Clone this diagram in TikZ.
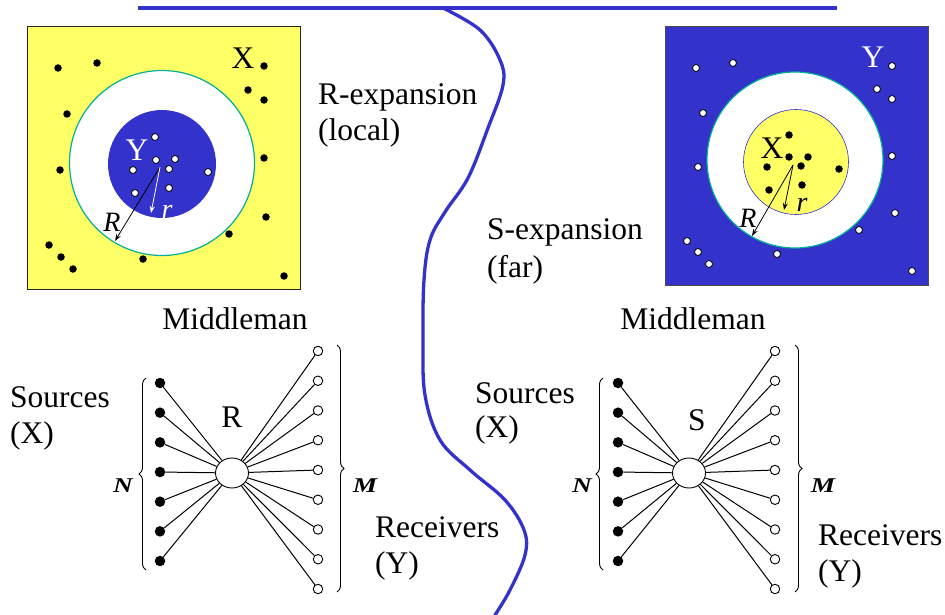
\documentclass[tikz,border=0pt]{standalone}
\usepackage{fontspec}
\setmainfont{Liberation Serif}
\usetikzlibrary{arrows.meta,positioning,shapes.geometric,decorations.pathreplacing}

\definecolor{pblue}{RGB}{51,51,204}
\definecolor{pyellow}{RGB}{255,255,102}
\definecolor{rimgreen}{RGB}{0,175,150}

\tikzset{
  lbl/.style={font=\fontsize{31.5}{36}\selectfont, inner sep=0pt},
  sym/.style={font=\fontsize{28}{30}\selectfont\itshape, inner sep=0pt},
  card/.style={font=\fontsize{21}{23}\selectfont\bfseries\itshape, inner sep=0pt, xscale=1.3},
  bdot/.style={circle, fill=black, inner sep=0pt, minimum size=7.5pt},
  wdot/.style={circle, draw=black, fill=white, line width=0.8pt, inner sep=0pt, minimum size=7pt},
  srcdot/.style={circle, fill=black, inner sep=0pt, minimum size=10.5pt},
  dstdot/.style={circle, draw=black, fill=white, line width=0.9pt, inner sep=0pt, minimum size=9.5pt},
  hub/.style={ellipse, draw=black, fill=white, line width=0.9pt, inner sep=0pt, minimum width=33pt, minimum height=30pt},
  link/.style={line width=1pt},
  grp/.style={decorate, decoration={brace, amplitude=7pt}, line width=0.9pt},
  divider/.style={pblue, line width=3.3pt},
  radius arrow/.style={-{Stealth[length=7pt,width=5pt]}, line width=0.8pt},
}

\begin{document}
\begin{tikzpicture}[x=1pt, y=-1pt]
\useasboundingbox (0,0) rectangle (945,615);

% dividing lines
\draw[divider] (138,8) -- (837,8);
\draw[divider, line cap=round] plot[smooth, tension=0.6] coordinates {(443,8) (480,30) (500,60) (503,85) (488,128) (468,178) (445,212) (430,240) (424,280) (423,340) (425,395) (440,440) (470,470) (505,500) (524,530) (525,555) (510,590) (495,615)};

% R-expansion (local)
\draw[fill=pyellow, draw=black!85, line width=1pt] (27,27) rectangle (300,289);
\draw[fill=white, draw=rimgreen, line width=1.2pt] (162,163) circle (92.5);
\fill[pblue] (162,164) circle (54);
\foreach \p in {(58,68),(97,63),(264,66),(248,90),(264,100),(67,114),(60,170),(264,158),(266,217),(229,234),(49,245),(61,257),(73,269),(143,259),(284,276)}
  \node[bdot] at \p {};
\foreach \p in {(155,137),(156,160),(175,159),(169,169),(133,170),(208,172),(169,188),(135,193)}
  \node[wdot] at \p {};
\node[lbl] (lx) at (243,58) {X};
\node[lbl, white] (ly) at (137,150) {Y};
\coordinate (lc) at (160,167);
\coordinate (lrim) at (115,241);
\coordinate (lin) at (151,213);
\draw[radius arrow] (lc) -- (lrim);
\draw[radius arrow, white] (lc) -- (lin);
\node[sym] (lbigr) at (112,222) {R};
\node[sym, white] (lsmallr) at (167,212) {r};
\node[lbl, anchor=west] (rexp) at (318,97) {R-expansion};
\node[lbl, anchor=west] (rloc) at (318,133) {(local)};

% S-expansion (far)
\draw[fill=pblue, draw=black!70, line width=1pt] (665,27) rectangle (928,285);
\draw[fill=white, draw=rimgreen, line width=1.2pt] (795,160) circle (88);
\draw[fill=pyellow, draw=pblue, line width=0.6pt] (796,162) circle (52.5);
\foreach \p in {(696,68),(733,63),(892,66),(877,89),(892,99),(703,113),(698,167),(892,156),(895,213),(859,230),(687,241),(698,252),(709,264),(777,254),(912,271)}
  \node[wdot] at \p {};
\foreach \p in {(789,135),(789,157),(808,157),(801,166),(767,167),(839,169),(802,185),(769,190)}
  \node[bdot] at \p {};
\node[lbl, white] (ry) at (873,57) {Y};
\node[lbl] (rx) at (772,148) {X};
\coordinate (rc) at (793,165);
\coordinate (rrim) at (752,236);
\coordinate (rin) at (784,210);
\draw[radius arrow] (rc) -- (rrim);
\draw[radius arrow] (rc) -- (rin);
\node[sym] (rbigr) at (748,218) {R};
\node[sym] (rsmallr) at (802,205) {r};
\node[lbl, anchor=west] (sexp) at (487,232) {S-expansion};
\node[lbl, anchor=west] (sfar) at (487,270) {(far)};

% middleman fan, left
\node[lbl] (lmid) at (235,319) {Middleman};
\node[hub] (lhub) at (232,473) {};
\node[lbl] (lhubname) at (232,417) {R};
\foreach \i in {1,...,7} {
  \node[srcdot] (ls\i) at (160,{383+29.67*(\i-1)}) {};
  \draw[link] (ls\i) -- (lhub);
}
\foreach \j in {1,...,9} {
  \node[dstdot] (ld\j) at (318,{351+29.75*(\j-1)}) {};
  \draw[link] (lhub) -- (ld\j);
}
\draw[grp] (146,570) -- (146,378);
\draw[grp] (337,345) -- (337,592);
\node[card] (ln) at (123,486) {N};
\node[card] (lm) at (365,486) {M};
\node[lbl, anchor=west] (lsrc) at (10,397) {Sources};
\node[lbl, anchor=west] (lsrcx) at (10,436) {(X)};
\node[lbl, anchor=west] (lrcv) at (375,527) {Receivers};
\node[lbl, anchor=west] (lrcvy) at (375,566) {(Y)};

% middleman fan, right
\node[lbl] (rmid) at (693,319) {Middleman};
\node[hub] (rhub) at (689,473) {};
\node[lbl] (rhubname) at (697,420) {S};
\foreach \i in {1,...,7} {
  \node[srcdot] (rs\i) at (618,{383+29.67*(\i-1)}) {};
  \draw[link] (rs\i) -- (rhub);
}
\foreach \j in {1,...,9} {
  \node[dstdot] (rd\j) at (775,{351+29.75*(\j-1)}) {};
  \draw[link] (rhub) -- (rd\j);
}
\draw[grp] (603,570) -- (603,378);
\draw[grp] (795,345) -- (795,592);
\node[card] (rn) at (582,486) {N};
\node[card] (rm) at (823,486) {M};
\node[lbl, anchor=west] (rsrc) at (475,393) {Sources};
\node[lbl, anchor=west] (rsrcx) at (475,430) {(X)};
\node[lbl, anchor=west] (rrcv) at (818,535) {Receivers};
\node[lbl, anchor=west] (rrcvy) at (818,574) {(Y)};
\end{tikzpicture}
\end{document}
